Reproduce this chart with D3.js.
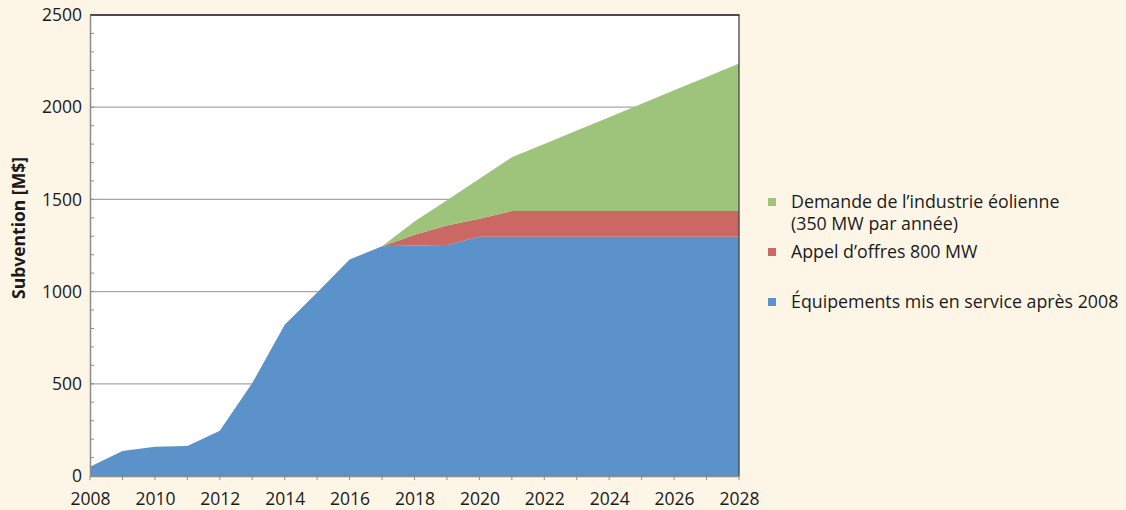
<!DOCTYPE html>
<html><head><meta charset="utf-8">
<script src="https://cdn.jsdelivr.net/npm/d3@7"></script>
<style>
html,body{margin:0;padding:0;background:#fdf6e7;}
svg{display:block;}
text{font-family:"Open Sans","Noto Sans",sans-serif;fill:#1a1a1a;}
</style></head>
<body>
<svg id="chart" width="1126" height="510"></svg>
<script>
const years = [2008,2009,2010,2011,2012,2013,2014,2015,2016,2017,2018,2019,2020,2021,2022,2023,2024,2025,2026,2027,2028];
const equipements = [50,136,158,163,245,504,820,995,1174,1246,1250,1253,1297,1297,1297,1297,1297,1297,1297,1297,1297];
const appelOffres = [0,0,0,0,0,0,0,0,0,0,58,106,98,140,140,140,140,140,140,140,140];
const demandeIndustrie = [0,0,0,0,0,0,0,0,0,0,72,136,217,291,364,436,509,582,655,727,800];
const seriesNames = ["Équipements mis en service après 2008","Appel d’offres 800 MW","Demande de l’industrie éolienne"];
const seriesColors = ["#5b92c9","#cb6864","#9dc47a"];
const yTicks = [0,500,1000,1500,2000,2500];
const xTicks = [2008,2010,2012,2014,2016,2018,2020,2022,2024,2026,2028];
const legendLines = [["Demande de l’industrie éolienne","(350 MW par année)"],["Appel d’offres 800 MW"],["Équipements mis en service après 2008"]];

const svg = d3.select("#chart");
const L = 90, R = 739, T = 15, B = 476;
const x = d3.scaleLinear().domain([2008,2028]).range([L,R]);
const y = d3.scaleLinear().domain([0,2500]).range([B,T]);

svg.append("rect").attr("x",L).attr("y",T).attr("width",R-L).attr("height",B-T).attr("fill","#fff");

// gridlines
svg.append("g").selectAll("line").data(yTicks.filter(d=>d>0&&d<2500)).join("line")
  .attr("x1",L).attr("x2",R).attr("y1",d=>y(d)).attr("y2",d=>y(d))
  .attr("stroke","#a6a6a6").attr("stroke-width",1.3);

// stacked areas
const table = years.map((yr,i)=>({year:yr, a:equipements[i], b:appelOffres[i], c:demandeIndustrie[i]}));
const stack = d3.stack().keys(["a","b","c"]);
const layers = stack(table);
const area = d3.area().x(d=>x(d.data.year)).y0(d=>y(d[0])).y1(d=>y(d[1]));
svg.append("g").selectAll("path").data(layers).join("path")
  .attr("d",area).attr("fill",(d,i)=>seriesColors[i]);

// frame top/right
svg.append("line").attr("x1",L).attr("x2",R+0.5).attr("y1",T).attr("y2",T).attr("stroke","#111").attr("stroke-width",1.5);
svg.append("line").attr("x1",R).attr("x2",R).attr("y1",T).attr("y2",B).attr("stroke","#444").attr("stroke-width",1.3);

// y axis
const yAxis = d3.axisLeft(y).tickValues(yTicks).tickSize(0).tickPadding(8).tickFormat(d3.format("d"));
const gy = svg.append("g").attr("transform",`translate(${L},0)`).call(yAxis);
gy.select(".domain").attr("stroke","#8c8c8c").attr("stroke-width",1.5);
gy.selectAll("text").attr("font-size",17.5).attr("font-family","Open Sans, sans-serif").attr("fill","#1a1a1a");
// minor ticks inward
svg.append("g").selectAll("line").data(d3.range(100,2500,100)).join("line")
  .attr("x1",L).attr("x2",L+4).attr("y1",d=>y(d)).attr("y2",d=>y(d))
  .attr("stroke","#8c8c8c").attr("stroke-width",1);

// x axis
const xAxis = d3.axisBottom(x).tickValues(xTicks).tickSize(0).tickPadding(17).tickFormat(d3.format("d"));
const gx = svg.append("g").attr("transform",`translate(0,${B})`).call(xAxis);
gx.select(".domain").attr("stroke","#8c8c8c").attr("stroke-width",1.5);
gx.selectAll("text").attr("font-size",17.5).attr("font-family","Open Sans, sans-serif").attr("fill","#1a1a1a");
svg.append("g").selectAll("line").data(years).join("line")
  .attr("x1",d=>x(d)).attr("x2",d=>x(d)).attr("y1",B).attr("y2",B+4)
  .attr("stroke","#8c8c8c").attr("stroke-width",1);

// y title
svg.append("text").attr("transform","translate(25,228) rotate(-90)")
  .attr("text-anchor","middle").attr("font-size",17.5).attr("font-weight","bold").text("Subvention [M$]");

// legend
const legY = [202,252,302];
const legColors = [seriesColors[2],seriesColors[1],seriesColors[0]];
legendLines.forEach((lines,i)=>{
  svg.append("rect").attr("x",768).attr("y",legY[i]-4).attr("width",8).attr("height",8).attr("fill",legColors[i]);
  const t = svg.append("text").attr("x",791).attr("y",legY[i]).attr("font-size",17.8);
  lines.forEach((s,j)=>{
    t.append("tspan").attr("x",791).attr("y",legY[i]+j*21.5).attr("dy","0.35em").text(s);
  });
});
</script>
</body></html>
